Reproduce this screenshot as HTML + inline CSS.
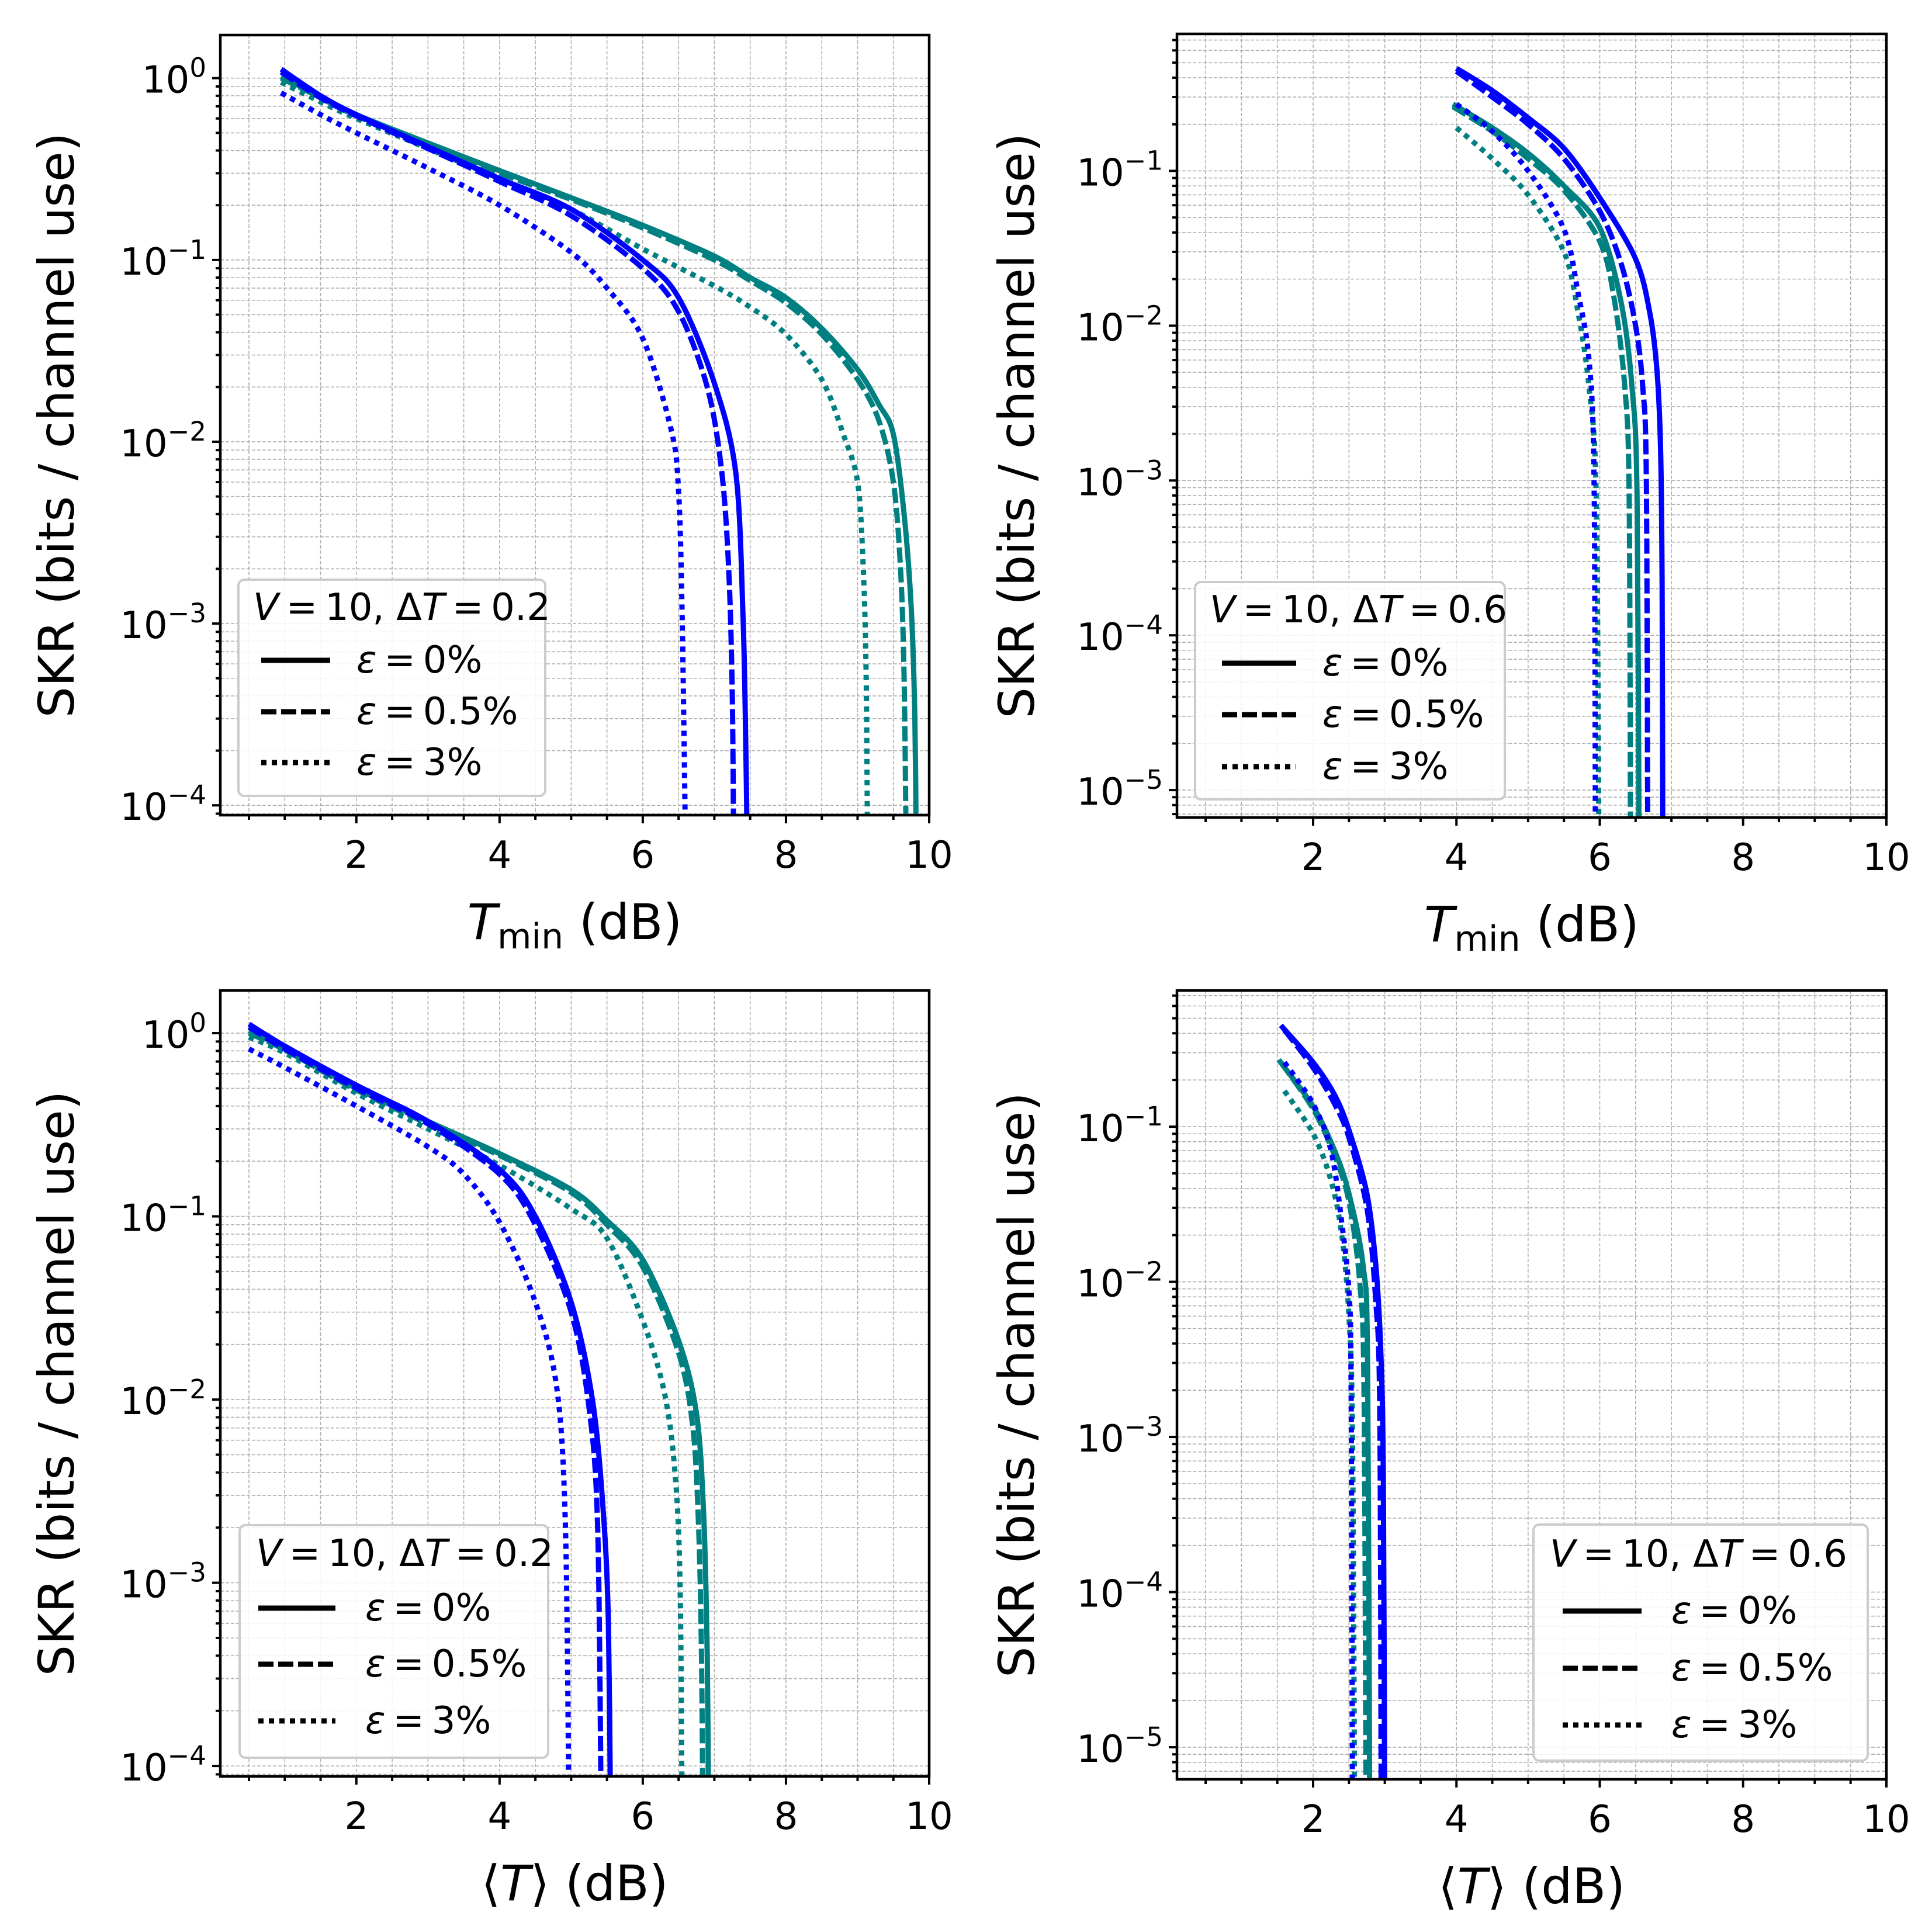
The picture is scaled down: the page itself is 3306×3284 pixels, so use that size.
<!DOCTYPE html>
<html><head><meta charset="utf-8">
<style>
html,body{margin:0;padding:0;background:#fff;}
svg{display:block;font-family:"DejaVu Sans","Liberation Sans",sans-serif;}
</style></head>
<body>
<svg id="fig" width="3306" height="3284" viewBox="0 0 3306 3284" xmlns="http://www.w3.org/2000/svg">
<rect x="0" y="0" width="3306" height="3284" fill="#fff"/>
</svg>
<script>
// ---- data: [x (dB), SKR] pairs per series ----
// Panel 1: Tmin, dT=0.2
const p1_blue_e0   = [[0.95,1.12],[1.5,0.8],[2,0.63],[3,0.42],[4,0.28],[5,0.19],[6,0.1],[6.5,0.062],[7,0.021],[7.3,0.0067],[7.4,0.0011],[7.44,0.0002],[7.46,0.00005]];
const p1_blue_e05  = [[0.95,1.08],[1.5,0.78],[2,0.62],[3,0.41],[4,0.27],[5,0.175],[6,0.09],[6.5,0.052],[6.9,0.02],[7.1,0.007],[7.2,0.002],[7.25,0.0004],[7.27,0.00005]];
const p1_blue_e3   = [[0.95,0.83],[1.5,0.63],[2,0.5],[3,0.32],[4,0.2],[5,0.11],[5.5,0.07],[6,0.037],[6.4,0.0115],[6.5,0.0053],[6.55,0.0011],[6.6,0.00005]];
const p1_teal_e0   = [[0.95,1.02],[1.5,0.79],[2,0.63],[3,0.44],[4,0.31],[5,0.22],[6,0.155],[7,0.105],[7.5,0.08],[8,0.062],[8.5,0.042],[9,0.025],[9.3,0.016],[9.5,0.011],[9.65,0.004],[9.75,0.0012],[9.8,0.0003],[9.82,0.00005]];
const p1_teal_e05  = [[0.95,1.0],[1.5,0.78],[2,0.62],[3,0.43],[4,0.3],[5,0.215],[6,0.15],[7,0.1],[7.5,0.077],[8,0.058],[8.5,0.039],[9,0.022],[9.3,0.013],[9.5,0.006],[9.6,0.002],[9.65,0.0005],[9.68,0.00005]];
const p1_teal_e3   = [[0.95,0.95],[1.5,0.74],[2,0.6],[3,0.41],[4,0.28],[5,0.19],[6,0.115],[7,0.072],[7.5,0.055],[8,0.039],[8.5,0.022],[8.8,0.011],[9,0.006],[9.08,0.002],[9.12,0.0005],[9.14,0.00005]];
// Panel 2: Tmin, dT=0.6
const p2_blue_e0   = [[4,0.46],[4.5,0.33],[5,0.22],[5.5,0.14],[6,0.067],[6.5,0.027],[6.7,0.012],[6.8,0.005],[6.85,0.0015],[6.87,0.0002],[6.88,0.000003]];
const p2_blue_e05  = [[4,0.44],[4.5,0.3],[5,0.2],[5.5,0.12],[6,0.055],[6.3,0.025],[6.5,0.01],[6.6,0.004],[6.65,0.001],[6.67,0.000003]];
const p2_blue_e3   = [[4,0.27],[4.5,0.18],[5,0.1],[5.5,0.042],[5.7,0.016],[5.85,0.006],[5.92,0.001],[5.94,0.000003]];
const p2_teal_e0   = [[3.95,0.27],[4.5,0.19],[5,0.13],[5.5,0.08],[6,0.043],[6.3,0.014],[6.45,0.004],[6.52,0.0008],[6.55,0.000003]];
const p2_teal_e05  = [[3.95,0.26],[4.5,0.18],[5,0.12],[5.5,0.075],[6,0.035],[6.2,0.015],[6.35,0.004],[6.41,0.0008],[6.43,0.000003]];
const p2_teal_e3   = [[4,0.19],[4.5,0.12],[5,0.07],[5.5,0.03],[5.7,0.012],[5.85,0.004],[5.95,0.0008],[5.99,0.000003]];
// Panel 3: <T>, dT=0.2
const p3_blue_e0   = [[0.5,1.12],[1,0.85],[2,0.52],[3,0.33],[4,0.18],[4.5,0.1],[5,0.034],[5.3,0.0098],[5.45,0.0024],[5.52,0.0006],[5.55,0.00005]];
const p3_blue_e05  = [[0.5,1.08],[1,0.82],[2,0.5],[3,0.32],[4,0.17],[4.5,0.09],[5,0.03],[5.25,0.009],[5.37,0.002],[5.42,0.00005]];
const p3_blue_e3   = [[0.5,0.82],[1,0.65],[2,0.4],[3,0.24],[3.5,0.17],[4,0.093],[4.5,0.034],[4.8,0.0115],[4.92,0.002],[4.97,0.00005]];
const p3_teal_e0   = [[0.5,1.03],[1,0.83],[2,0.5],[3,0.33],[4,0.22],[5,0.14],[5.5,0.095],[6,0.058],[6.5,0.021],[6.75,0.0084],[6.85,0.0024],[6.9,0.0004],[6.92,0.00005]];
const p3_teal_e05  = [[0.5,1.0],[1,0.81],[2,0.49],[3,0.32],[4,0.215],[5,0.135],[5.5,0.09],[6,0.053],[6.5,0.018],[6.7,0.007],[6.78,0.002],[6.82,0.0004],[6.84,0.00005]];
const p3_teal_e3   = [[0.5,0.95],[1,0.78],[2,0.47],[3,0.3],[4,0.19],[5,0.11],[5.5,0.076],[6,0.027],[6.3,0.011],[6.45,0.004],[6.52,0.001],[6.55,0.00005]];
// Panel 4: <T>, dT=0.6
const p4_blue_e0   = [[1.55,0.45],[2,0.26],[2.3,0.16],[2.5,0.095],[2.75,0.037],[2.88,0.012],[2.95,0.003],[2.98,0.0005],[3.0,0.000003]];
const p4_blue_e05  = [[1.6,0.42],[2,0.24],[2.3,0.14],[2.5,0.085],[2.75,0.03],[2.87,0.008],[2.93,0.0015],[2.95,0.000003]];
const p4_blue_e3   = [[1.6,0.26],[2,0.14],[2.25,0.07],[2.4,0.024],[2.5,0.0086],[2.53,0.002],[2.55,0.000003]];
const p4_teal_e0   = [[1.52,0.27],[2,0.135],[2.3,0.07],[2.5,0.037],[2.7,0.0125],[2.76,0.003],[2.79,0.000003]];
const p4_teal_e05  = [[1.55,0.26],[2,0.13],[2.3,0.065],[2.5,0.033],[2.65,0.01],[2.71,0.002],[2.74,0.000003]];
const p4_teal_e3   = [[1.6,0.17],[2,0.09],[2.25,0.045],[2.4,0.02],[2.5,0.006],[2.55,0.001],[2.58,0.000003]];

const xTicks = [2,4,6,8,10];
const yTicksP13 = [0,-1,-2,-3,-4];
const yTicksP24 = [-1,-2,-3,-4,-5];
const legendLabels = ["0%","0.5%","3%"];

const NS="http://www.w3.org/2000/svg";
const svg=document.getElementById('fig');
function mk(tag,attrs,parent){const e=document.createElementNS(NS,tag);for(const k in attrs)e.setAttribute(k,attrs[k]);(parent||svg).appendChild(e);return e;}

const BLUE="#0000ff", TEAL="#008080";
const DASH={solid:null,dashed:"26 8",dotted:"9 9"};
const EQ="\u2009=\u2009";

function smoothPath(P){
  let d="M"+P[0][0].toFixed(1)+" "+P[0][1].toFixed(1);
  for(let i=0;i<P.length-1;i++){
    const p0=P[Math.max(0,i-1)],p1=P[i],p2=P[i+1],p3=P[Math.min(P.length-1,i+2)];
    const t=0.16;
    let c1x=p1[0]+(p2[0]-p0[0])*t, c1y=p1[1]+(p2[1]-p0[1])*t;
    let c2x=p2[0]-(p3[0]-p1[0])*t, c2y=p2[1]-(p3[1]-p1[1])*t;
    // keep x monotone within segment to avoid bulges
    const lo=Math.min(p1[0],p2[0]),hi=Math.max(p1[0],p2[0]);
    c1x=Math.min(hi,Math.max(lo,c1x)); c2x=Math.min(hi,Math.max(lo,c2x));
    const ly=Math.min(p1[1],p2[1]),hy=Math.max(p1[1],p2[1]);
    c1y=Math.min(hy,Math.max(ly,c1y)); c2y=Math.min(hy,Math.max(ly,c2y));
    d+=` C${c1x.toFixed(1)} ${c1y.toFixed(1)} ${c2x.toFixed(1)} ${c2y.toFixed(1)} ${p2[0].toFixed(1)} ${p2[1].toFixed(1)}`;
  }
  return d;
}

const panels=[
 {id:"top-left",L:377,R:1590,T:60,B:1395,xmin:0.1,xmax:10,ymin:-4.054,ymax:0.237,yt:yTicksP13,xl:"tmin",ylx:97,
  series:[[p1_teal_e0,TEAL,"solid"],[p1_teal_e05,TEAL,"dashed"],[p1_teal_e3,TEAL,"dotted"],[p1_blue_e0,BLUE,"solid"],[p1_blue_e05,BLUE,"dashed"],[p1_blue_e3,BLUE,"dotted"]],
  leg:{x:408,y:992,w:525,h:370,title:"0.2",tx:433,ty:1061,lx1:447,lx2:565,ly:[1130,1218,1305],txx:610}},
 {id:"top-right",L:2014,R:3228,T:58,B:1399,xmin:0.1,xmax:10,ymin:-5.177,ymax:-0.115,yt:yTicksP24,xl:"tmin",ylx:1740,
  series:[[p2_teal_e0,TEAL,"solid"],[p2_teal_e05,TEAL,"dashed"],[p2_teal_e3,TEAL,"dotted"],[p2_blue_e0,BLUE,"solid"],[p2_blue_e05,BLUE,"dashed"],[p2_blue_e3,BLUE,"dotted"]],
  leg:{x:2045,y:996,w:530,h:372,title:"0.6",tx:2070,ty:1065,lx1:2091,lx2:2218,ly:[1135,1223,1312],txx:2263}},
 {id:"bottom-left",L:377,R:1590,T:1695,B:3040,xmin:0.1,xmax:10,ymin:-4.057,ymax:0.233,yt:yTicksP13,xl:"mean",ylx:97,
  series:[[p3_teal_e0,TEAL,"solid"],[p3_teal_e05,TEAL,"dashed"],[p3_teal_e3,TEAL,"dotted"],[p3_blue_e0,BLUE,"solid"],[p3_blue_e05,BLUE,"dashed"],[p3_blue_e3,BLUE,"dotted"]],
  leg:{x:410,y:2610,w:528,h:398,title:"0.2",tx:438,ty:2680,lx1:442,lx2:574,ly:[2752,2848,2945],txx:625}},
 {id:"bottom-right",L:2014,R:3228,T:1695,B:3045,xmin:0.1,xmax:10,ymin:-5.207,ymax:-0.122,yt:yTicksP24,xl:"mean",ylx:1740,
  series:[[p4_teal_e0,TEAL,"solid"],[p4_teal_e05,TEAL,"dashed"],[p4_teal_e3,TEAL,"dotted"],[p4_blue_e0,BLUE,"solid"],[p4_blue_e05,BLUE,"dashed"],[p4_blue_e3,BLUE,"dotted"]],
  leg:{x:2624,y:2609,w:572,h:404,title:"0.6",tx:2652,ty:2681,lx1:2674,lx2:2809,ly:[2757,2855,2952],txx:2860}}
];

panels.forEach((p,pi)=>{
  const g=mk('g',{});
  
  
  const sx=v=>p.L+(v-p.xmin)/(p.xmax-p.xmin)*(p.R-p.L);
  const sy=v=>p.B-(Math.log10(v)-p.ymin)/(p.ymax-p.ymin)*(p.B-p.T);
  const syl=l=>p.B-(l-p.ymin)/(p.ymax-p.ymin)*(p.B-p.T);
  const grid=mk('g',{stroke:"#b0b0b0","stroke-width":1.6,"stroke-dasharray":"6 3",fill:"none"},g);
  
  
  for(let x=0.5;x<=10.001;x+=0.5){ if(x<p.xmin)continue; const X=sx(x); mk('line',{x1:X,x2:X,y1:p.T,y2:p.B},grid);}
  const d0=Math.floor(p.ymin), d1=Math.ceil(p.ymax);
  for(let d=d0;d<=d1;d++){ for(let m=1;m<=9;m++){ const l=d+Math.log10(m); if(l<p.ymin||l>p.ymax)continue; const Y=syl(l); mk('line',{x1:p.L,x2:p.R,y1:Y,y2:Y},grid);} }
  const cid="clip"+pi;
  const cp=mk('clipPath',{id:cid},g); mk('rect',{x:p.L,y:p.T,width:p.R-p.L,height:p.B-p.T},cp);
  const lines=mk('g',{"clip-path":"url(#"+cid+")"},g);
  p.series.forEach(s=>{
    const [data,col,sty]=s;
    const P=data.map(pt=>[sx(pt[0]),sy(pt[1])]);
    const a={d:smoothPath(P),fill:"none",stroke:col,"stroke-width":9,"stroke-linejoin":"round"};
    if(DASH[sty])a["stroke-dasharray"]=DASH[sty];
    const path=mk('path',a,lines);
    
    
  });
  const tk=mk('g',{stroke:"#000","stroke-width":4},g);
  for(let x=0.5;x<=10.001;x+=0.5){ if(x<p.xmin)continue; const X=sx(x); const major=Math.abs(x/2-Math.round(x/2))<1e-6; mk('line',{x1:X,x2:X,y1:p.B,y2:p.B+(major?14:8)},tk);}
  for(let d=d0;d<=d1;d++){ for(let m=1;m<=9;m++){ const l=d+Math.log10(m); if(l<p.ymin||l>p.ymax)continue; const Y=syl(l); mk('line',{x1:p.L,x2:p.L-(m===1?14:8),y1:Y,y2:Y},tk);} }
  const fr=mk('rect',{x:p.L,y:p.T,width:p.R-p.L,height:p.B-p.T,fill:"none",stroke:"#000","stroke-width":4.5},g);
  
  
  xTicks.forEach(v=>{const t=mk('text',{x:sx(v),y:p.B+90,"font-size":64,"text-anchor":"middle"},g);t.textContent=String(v);
    
    });
  p.yt.forEach(e=>{const Y=syl(e);
    const t=mk('text',{x:p.L-24,y:Y+25,"font-size":64,"text-anchor":"end"},g);
    
    
    const a=mk('tspan',{},t); a.textContent="10";
    const b=mk('tspan',{dy:-27,"font-size":45},t); b.textContent=(e===0?"0":"\u2212"+Math.abs(e));
  });
  const cy=(p.T+p.B)/2;
  const yl=mk('text',{x:p.ylx,y:cy,"font-size":84,"text-anchor":"middle",transform:`rotate(-90 ${p.ylx} ${cy})`,"dominant-baseline":"central"},g);
  yl.textContent="SKR (bits / channel use)";
  
  
  const cx=(p.L+p.R)/2;
  const xl=mk('text',{x:cx,y:p.B+212,"font-size":84,"text-anchor":"middle"},g);
  
  
  if(p.xl==="tmin"){
    const a=mk('tspan',{"font-style":"italic"},xl);a.textContent="T";
    const b=mk('tspan',{dy:16,"font-size":60},xl);b.textContent="min";
    const c=mk('tspan',{dy:-16},xl);c.textContent=" (dB)";
  } else {
    const a=mk('tspan',{},xl);a.textContent="\u27E8";
    const b=mk('tspan',{"font-style":"italic"},xl);b.textContent="T";
    const c=mk('tspan',{},xl);c.textContent="\u27E9 (dB)";
  }
  const L=p.leg;
  const lg=mk('g',{},g);
  
  
  mk('rect',{x:L.x,y:L.y,width:L.w,height:L.h,rx:10,fill:"#fff","fill-opacity":0.85,stroke:"#cccccc","stroke-width":4},lg);
  const tt=mk('text',{x:L.tx,y:L.ty,"font-size":64},lg);
  
  
  [["V",1],[EQ+"10, \u0394",0],["T",1],[EQ+L.title,0]].forEach(([s,it])=>{const ts=mk('tspan',it?{"font-style":"italic"}:{},tt);ts.textContent=s;});
  ["solid","dashed","dotted"].forEach((sty,i)=>{
    const a={x1:L.lx1,x2:L.lx2,y1:L.ly[i],y2:L.ly[i],stroke:"#000","stroke-width":9};
    if(DASH[sty])a["stroke-dasharray"]=DASH[sty];
    const ln=mk('line',a,lg);
    
    
    const t=mk('text',{x:L.txx,y:L.ly[i]+21,"font-size":64},lg);
    
    
    const e=mk('tspan',{"font-style":"italic"},t);e.textContent="\u03B5";
    const r=mk('tspan',{},t);r.textContent=EQ+legendLabels[i];
  });
});
</script>
</body></html>
